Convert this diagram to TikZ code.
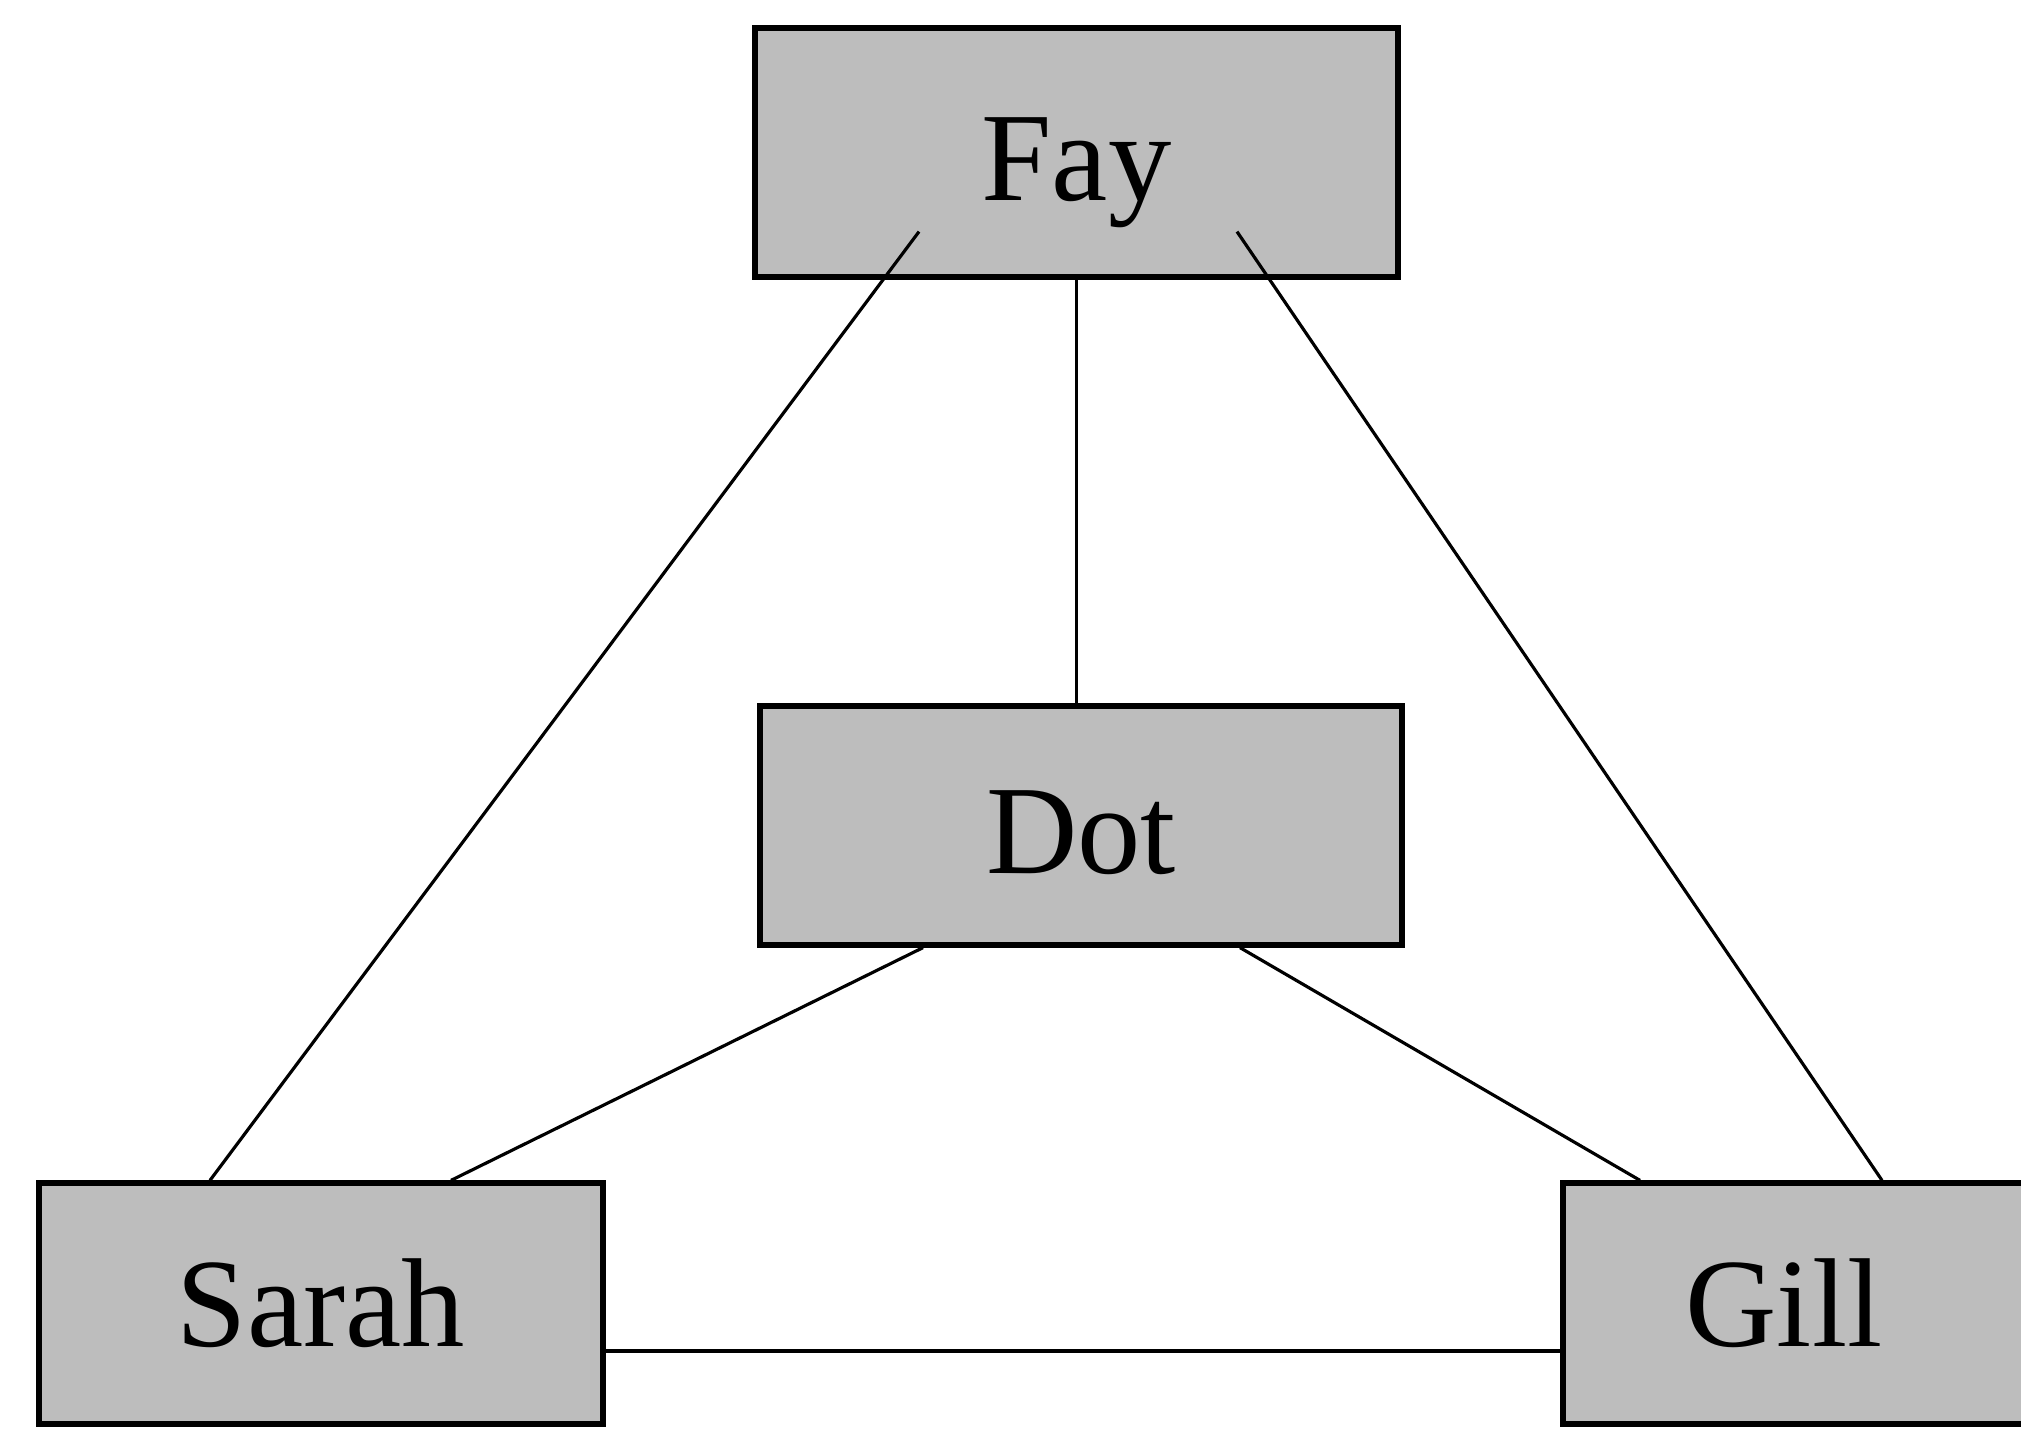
\documentclass[tikz,border=0pt]{standalone}
\usepackage{fontspec}
\setmainfont{Liberation Serif}
\usepackage{tikz}
\usetikzlibrary{calc}

\definecolor{boxgray}{gray}{0.74}

\begin{document}
\begin{tikzpicture}[
  font=\fontsize{36}{40}\selectfont,
  person/.style={draw, line width=1.5pt, fill=boxgray, inner sep=0pt, align=center},
  tie/.style={line width=0.9pt},
]
\clip (0,0) rectangle (20.21,14.31);

% ---------- people ----------
\node[person, minimum width=6.43cm, minimum height=2.49cm] (fay) at (10.765,12.785) {\raisebox{-0.485cm}[0pt][0pt]{Fay}};
\node[person, minimum width=6.42cm, minimum height=2.39cm] (dot) at (10.81,6.055) {\raisebox{-0.48cm}[0pt][0pt]{Dot}};
\node[person, minimum width=5.64cm, minimum height=2.41cm] (sarah) at (3.21,1.275) {Sarah};
\node[person, minimum width=5.64cm, minimum height=2.41cm] (gill) at (18.45,1.275) {Gill\hspace*{1.22cm}};

% ---------- ties ----------
\draw[tie] ([shift={(-1.575,0.48)}]fay.south) -- ([xshift=-1.11cm]sarah.north);
\draw[tie] ([shift={(1.605,0.48)}]fay.south) -- ([xshift=0.37cm]gill.north);
\draw[tie] (fay.south) -- (fay.south |- dot.north);
\draw[tie] ([xshift=-1.58cm]dot.south) -- ([xshift=1.30cm]sarah.north);
\draw[tie] ([xshift=1.59cm]dot.south) -- ([xshift=-2.05cm]gill.north);
\draw[tie] ([yshift=-4.75mm]sarah.east) -- ([yshift=-4.75mm]sarah.east -| gill.west);

\end{tikzpicture}
\end{document}
